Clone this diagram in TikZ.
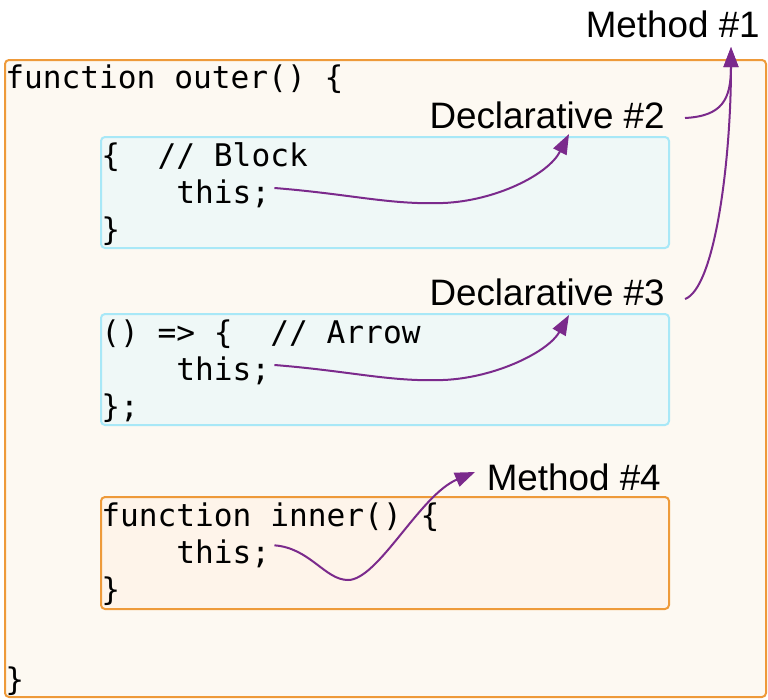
\documentclass[tikz,border=0pt]{standalone}
\usepackage{fontspec}
\setmainfont{Liberation Sans}
\newfontfamily\codefont{DejaVu Sans Mono}
\usetikzlibrary{arrows.meta}
\definecolor{outerfill}{HTML}{FDF9F2}
\definecolor{orangeline}{HTML}{EE9A3A}
\definecolor{cyanfill}{HTML}{EFF8F7}
\definecolor{cyanline}{HTML}{A8E8F7}
\definecolor{innerfill}{HTML}{FEF4EA}
\definecolor{arrowpurple}{HTML}{7B2A8C}
\tikzset{
  codetext/.style={font=\codefont\fontsize{23.4}{27}\selectfont, anchor=base west, inner sep=0pt},
  labeltext/.style={font=\fontsize{27.6}{32}\selectfont, anchor=base east, inner sep=0pt},
  framebox/.style={rounded corners=3pt, line width=1.5pt},
  ptr/.style={draw=arrowpurple, line width=1.5pt, -{Triangle[length=15pt,width=11pt]}}
}
\begin{document}
\begin{tikzpicture}[x=0.75pt,y=-0.75pt]
\useasboundingbox (0,0) rectangle (768,700);
% boxes
\draw[framebox, fill=outerfill, draw=orangeline] (5,60) rectangle (766,697);
\draw[framebox, fill=cyanfill, draw=cyanline] (101,137) rectangle (669,248);
\draw[framebox, fill=cyanfill, draw=cyanline] (101,314) rectangle (669,425);
\draw[framebox, fill=innerfill, draw=orangeline] (101,497) rectangle (669,609);
% code
\node[codetext] (outerline) at (5,88) {function outer() \{};
\node[codetext] (blockline) at (101,166) {\{\ \ // Block};
\node[codetext] (thisA) at (176,203) {this;};
\node[codetext] (blockend) at (101,240) {\}};
\node[codetext] (arrowline) at (101,343) {() => \{\ \ // Arrow};
\node[codetext] (thisB) at (176,380) {this;};
\node[codetext] (arrowend) at (101,417) {\};};
\node[codetext] (innerline) at (101,526) {function inner() \{};
\node[codetext] (thisC) at (176,563) {this;};
\node[codetext] (innerend) at (101,600) {\}};
\node[codetext] (outerend) at (5,690) {\}};
% labels
\node[labeltext] (m1) at (760,37) {Method \#1};
\node[labeltext] (d2) at (665,128) {Declarative \#2};
\node[labeltext] (d3) at (665,305) {Declarative \#3};
\node[labeltext] (m4) at (661,490) {Method \#4};
% targets
\coordinate (m1tip) at (731,47);
\coordinate (d2tip) at (569,134);
\coordinate (d3tip) at (569,315);
\coordinate (m4tip) at (475,472);
\coordinate (d2src) at (685,118);
\coordinate (d3src) at (685,299);
% connectors
\draw[ptr] ([xshift=3pt,yshift=4pt]thisA.east) .. controls (350,194) and (390,205) .. (443,203)
  .. controls (495,201) and (548,175) .. (d2tip);
\draw[ptr] ([xshift=3pt,yshift=4pt]thisB.east) .. controls (350,371) and (390,382) .. (443,380)
  .. controls (495,378) and (548,352) .. (d3tip);
\draw[ptr] ([xshift=3pt,yshift=6pt]thisC.east) .. controls (310,548) and (325,580) .. (348,580)
  .. controls (378,580) and (420,495) .. (m4tip);
\draw[ptr] (d2src) .. controls (722,116) and (731,100) .. (m1tip);
\draw[ptr] (d3src) .. controls (715,288) and (731,160) .. (m1tip);
\end{tikzpicture}
\end{document}
